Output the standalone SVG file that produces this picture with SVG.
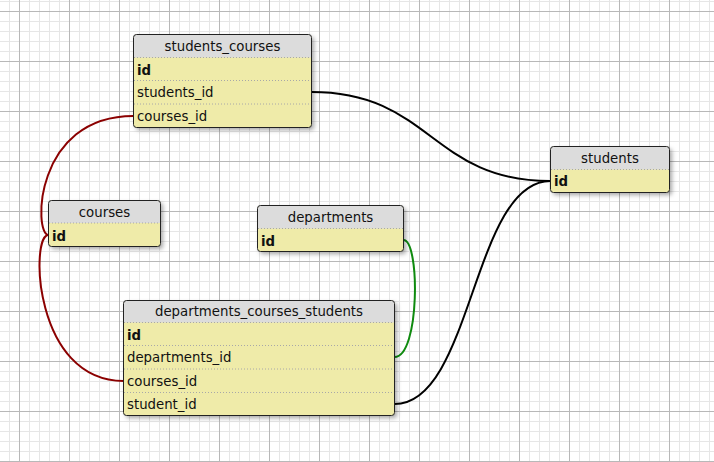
<svg xmlns="http://www.w3.org/2000/svg" width="714" height="462" viewBox="0 0 714 462">
  <defs>
    <pattern id="gridMinor" width="10" height="10" x="9" y="1" patternUnits="userSpaceOnUse">
      <path d="M0.5 0V10M0 0.5H10" stroke="#e6e6e6" stroke-width="1" fill="none"/>
    </pattern>
    <pattern id="gridMajor" width="50" height="50" x="19" y="11" patternUnits="userSpaceOnUse">
      <path d="M0.5 0V50M0 0.5H50" stroke="#b8b8b8" stroke-width="1" fill="none"/>
    </pattern>
    <filter id="shadow" x="-10%" y="-10%" width="130%" height="140%">
      <feDropShadow dx="2.5" dy="2.5" stdDeviation="2" flood-color="#000" flood-opacity="0.35"/>
    </filter>
    <style>
      .body { fill: #efeba9; }
      .head { fill: #dcdcdc; }
      .frame { fill: none; stroke: #222; stroke-width: 1; }
      .sep { stroke: #a8a8a8; stroke-width: 1; stroke-dasharray: 1 2; }
      .title { font-family: "DejaVu Sans", Verdana, sans-serif; font-size: 13.3px; fill: #111; text-anchor: middle; }
      .col { font-family: "DejaVu Sans", Verdana, sans-serif; font-size: 13.3px; fill: #111; }
      .pk { font-weight: bold; }
      .rel { fill: none; stroke-width: 2; }
      .rel-black { stroke: #000; }
      .rel-red { stroke: #8b0000; }
      .rel-green { stroke: #0f8a0f; }
    </style>
  </defs>

  <!-- canvas grid -->
  <rect width="714" height="462" fill="#fff"/>
  <rect width="714" height="462" fill="url(#gridMinor)"/>
  <rect width="714" height="462" fill="url(#gridMajor)"/>

  <!-- relations -->
  <g id="connectors">
    <path class="rel rel-black" d="M311.5 92 C431 92 431 181 550.5 181"/>
    <path class="rel rel-black" d="M394.5 404 C472.5 404 472.5 181 550.5 181"/>
    <path class="rel rel-red" d="M133.5 116 C33.5 116 33.5 235 48.5 235"/>
    <path class="rel rel-red" d="M48.5 235 C30 235 33.5 381 123.5 381"/>
    <path class="rel rel-green" d="M403.5 240 C420 240 420 357 394.5 357"/>
  </g>

  <!-- students_courses -->
  <g id="students_courses">
    <g filter="url(#shadow)">
      <rect class="body" x="133.5" y="34.5" width="178" height="93" rx="3"/>
    </g>
    <path class="head" d="M133.5 57.5V37.5Q133.5 34.5 136.5 34.5H308.5Q311.5 34.5 311.5 37.5V57.5Z"/>
    <line class="sep" x1="134" y1="57.5" x2="311" y2="57.5"/>
    <line class="sep" x1="134" y1="80.5" x2="311" y2="80.5"/>
    <line class="sep" x1="134" y1="104" x2="311" y2="104"/>
    <rect class="frame" x="133.5" y="34.5" width="178" height="93" rx="3"/>
    <text class="title" x="222.5" y="51">students_courses</text>
    <text class="col pk" x="137" y="74.5">id</text>
    <text class="col" x="137" y="97">students_id</text>
    <text class="col" x="137" y="120.5">courses_id</text>
  </g>

  <!-- courses -->
  <g id="courses">
    <g filter="url(#shadow)">
      <rect class="body" x="48.5" y="200.5" width="112" height="46" rx="3"/>
    </g>
    <path class="head" d="M48.5 223V203.5Q48.5 200.5 51.5 200.5H157.5Q160.5 200.5 160.5 203.5V223Z"/>
    <line class="sep" x1="49" y1="223" x2="160" y2="223"/>
    <rect class="frame" x="48.5" y="200.5" width="112" height="46" rx="3"/>
    <text class="title" x="104.5" y="216.7">courses</text>
    <text class="col pk" x="52" y="240.5">id</text>
  </g>

  <!-- departments -->
  <g id="departments">
    <g filter="url(#shadow)">
      <rect class="body" x="257.5" y="205.5" width="146" height="46" rx="3"/>
    </g>
    <path class="head" d="M257.5 228.5V208.5Q257.5 205.5 260.5 205.5H400.5Q403.5 205.5 403.5 208.5V228.5Z"/>
    <line class="sep" x1="258" y1="228.5" x2="403" y2="228.5"/>
    <rect class="frame" x="257.5" y="205.5" width="146" height="46" rx="3"/>
    <text class="title" x="330.5" y="221.5">departments</text>
    <text class="col pk" x="261" y="245.5">id</text>
  </g>

  <!-- students -->
  <g id="students">
    <g filter="url(#shadow)">
      <rect class="body" x="550.5" y="146.5" width="119" height="46" rx="3"/>
    </g>
    <path class="head" d="M550.5 169.5V149.5Q550.5 146.5 553.5 146.5H666.5Q669.5 146.5 669.5 149.5V169.5Z"/>
    <line class="sep" x1="551" y1="169.5" x2="669" y2="169.5"/>
    <rect class="frame" x="550.5" y="146.5" width="119" height="46" rx="3"/>
    <text class="title" x="610" y="162.8">students</text>
    <text class="col pk" x="554" y="186.3">id</text>
  </g>

  <!-- departments_courses_students -->
  <g id="departments_courses_students">
    <g filter="url(#shadow)">
      <rect class="body" x="123.5" y="300.5" width="271" height="115" rx="3"/>
    </g>
    <path class="head" d="M123.5 322.5V303.5Q123.5 300.5 126.5 300.5H391.5Q394.5 300.5 394.5 303.5V322.5Z"/>
    <line class="sep" x1="124" y1="322.5" x2="394" y2="322.5"/>
    <line class="sep" x1="124" y1="345.5" x2="394" y2="345.5"/>
    <line class="sep" x1="124" y1="369" x2="394" y2="369"/>
    <line class="sep" x1="124" y1="392.5" x2="394" y2="392.5"/>
    <rect class="frame" x="123.5" y="300.5" width="271" height="115" rx="3"/>
    <text class="title" x="259" y="315.5">departments_courses_students</text>
    <text class="col pk" x="127" y="339.5">id</text>
    <text class="col" x="127" y="362">departments_id</text>
    <text class="col" x="127" y="385.7">courses_id</text>
    <text class="col" x="127" y="408.5">student_id</text>
  </g>
</svg>
